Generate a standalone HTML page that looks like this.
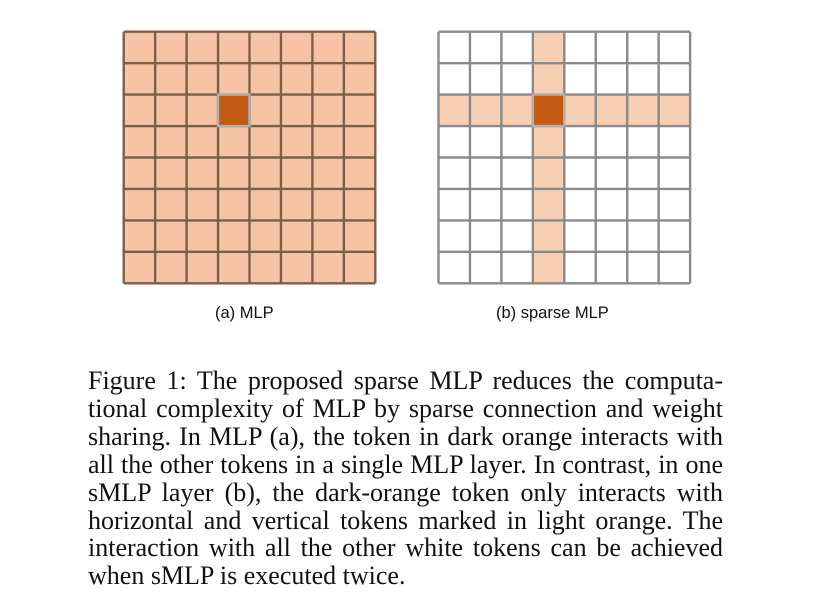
<!DOCTYPE html>
<html><head><meta charset="utf-8"><style>
body{margin:0;width:822px;height:594px;background:#fff;position:relative;overflow:hidden}
svg{position:absolute;left:0;top:0}
.cap{position:absolute;font-family:"Liberation Sans",sans-serif;font-size:16.5px;color:#111}
#txt{position:absolute;left:88px;top:367px;width:635px;font-family:"Liberation Serif",serif;font-size:26px;line-height:27.9px;color:#111}
#txt div{text-align:justify;text-align-last:justify;white-space:nowrap}
#txt div.last{text-align-last:left}
</style></head><body>
<svg width="822" height="594">
<g id="ga"></g>
<g id="gb"></g>
</svg>
<div class="cap" style="left:215px;top:304px">(a) MLP</div>
<div class="cap" style="left:496px;top:304px">(b) sparse MLP</div>
<div id="txt">
<div>Figure 1: The proposed sparse MLP reduces the computa-</div>
<div>tional complexity of MLP by sparse connection and weight</div>
<div>sharing. In MLP (a), the token in dark orange interacts with</div>
<div>all the other tokens in a single MLP layer. In contrast, in one</div>
<div>sMLP layer (b), the dark-orange token only interacts with</div>
<div>horizontal and vertical tokens marked in light orange. The</div>
<div>interaction with all the other white tokens can be achieved</div>
<div class="last">when sMLP is executed twice.</div>
</div>
<script>
const N=8, cs=31.45, focusRow=2, focusCol=3;
const NS='http://www.w3.org/2000/svg';
function grid(g,x0,y0,mode){
  for(let r=0;r<N;r++)for(let c=0;c<N;c++){
    let fill='#fff';
    if(mode==='a')fill='#f6c4a4';
    else if(r===focusRow||c===focusCol)fill='#f7cfb3';
    if(r===focusRow&&c===focusCol)fill='#c55a11';
    const e=document.createElementNS(NS,'rect');
    e.setAttribute('x',x0+c*cs);e.setAttribute('y',y0+r*cs);
    e.setAttribute('width',cs);e.setAttribute('height',cs);
    e.setAttribute('fill',fill);
    
    
    g.appendChild(e);
  }
  const col=mode==='a'?'#7d5f49':'#8a8a8a';
  for(let i=0;i<=N;i++){
    const a=document.createElementNS(NS,'line');
    a.setAttribute('x1',x0+i*cs);a.setAttribute('x2',x0+i*cs);a.setAttribute('y1',y0);a.setAttribute('y2',y0+N*cs);
    a.setAttribute('stroke',col);a.setAttribute('stroke-width',2.4);
    
    
    g.appendChild(a);
    const b=document.createElementNS(NS,'line');
    b.setAttribute('y1',y0+i*cs);b.setAttribute('y2',y0+i*cs);b.setAttribute('x1',x0);b.setAttribute('x2',x0+N*cs);
    b.setAttribute('stroke',col);b.setAttribute('stroke-width',2.4);
    
    
    g.appendChild(b);
  }
  const o=document.createElementNS(NS,'rect');
  o.setAttribute('x',x0+focusCol*cs);o.setAttribute('y',y0+focusRow*cs);
  o.setAttribute('width',cs);o.setAttribute('height',cs);
  o.setAttribute('fill','none');o.setAttribute('stroke','#b0b0b0');o.setAttribute('stroke-width',2.4);
  
  
  g.appendChild(o);
}
grid(document.getElementById('ga'),123.7,31.7,'a');
grid(document.getElementById('gb'),438.5,31.7,'b');
</script>
</body></html>
